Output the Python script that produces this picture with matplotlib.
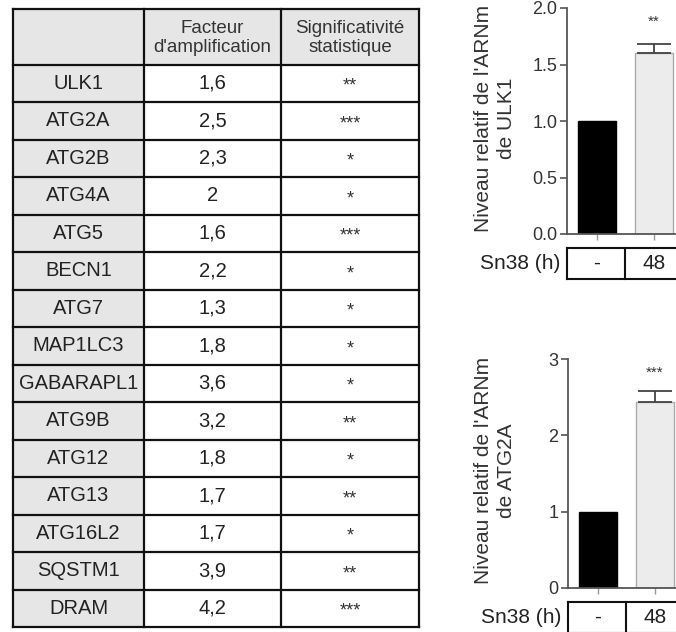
import numpy as np
import matplotlib.pyplot as plt
from matplotlib.patches import Rectangle

plt.rcParams['font.family'] = ['Liberation Sans', 'DejaVu Sans']

# table data
genes = ["ULK1", "ATG2A", "ATG2B", "ATG4A", "ATG5", "BECN1", "ATG7", "MAP1LC3",
         "GABARAPL1", "ATG9B", "ATG12", "ATG13", "ATG16L2", "SQSTM1", "DRAM"]
fold = ["1,6", "2,5", "2,3", "2", "1,6", "2,2", "1,3", "1,8",
        "3,6", "3,2", "1,8", "1,7", "1,7", "3,9", "4,2"]
signif = ["**", "***", "*", "*", "***", "*", "*", "*",
          "*", "**", "*", "**", "*", "**", "***"]
headers = ["", "Facteur\nd'amplification", "Significativité\nstatistique"]

# bar chart data
conditions = ["-", "48"]
ulk1_mean = [1.0, 1.6]
ulk1_err = [0.0, 0.08]
atg2a_mean = [1.0, 2.44]
atg2a_err = [0.0, 0.14]

W, H = 676, 632
fig = plt.figure(figsize=(W / 100, H / 100), dpi=100)

def px_axes(x0, y0, x1, y1):
    return fig.add_axes([x0 / W, 1 - y1 / H, (x1 - x0) / W, (y1 - y0) / H])

# ---- table ----
tab = fig.add_axes([0, 0, 1, 1])
tab.set_xlim(0, W)
tab.set_ylim(H, 0)
tab.axis('off')

col_edges = [13, 144, 281, 419]
top, head_bot, row_h = 9, 64.5, 37.5
gray = '#e6e6e6'
n = len(genes)
bottom = head_bot + n * row_h

# backgrounds
tab.add_patch(Rectangle((col_edges[0], top), col_edges[3] - col_edges[0], head_bot - top,
                        facecolor=gray, edgecolor='none'))
tab.add_patch(Rectangle((col_edges[0], head_bot), col_edges[1] - col_edges[0], n * row_h,
                        facecolor=gray, edgecolor='none'))
# grid lines
for xe in col_edges:
    tab.plot([xe, xe], [top, bottom], color='#111', lw=1.6, solid_capstyle='projecting')
tab.plot([col_edges[0], col_edges[3]], [top, top], color='#111', lw=1.6)
for i in range(n + 1):
    yl = head_bot + i * row_h
    tab.plot([col_edges[0], col_edges[3]], [yl, yl], color='#111', lw=1.6)

centers = [(col_edges[i] + col_edges[i + 1]) / 2 for i in range(3)]
for j, h in enumerate(headers):
    tab.text(centers[j], (top + head_bot) / 2 + 1, h, ha='center', va='center',
             fontsize=13.5, color='#333', linespacing=1.15)
for i in range(n):
    yc = head_bot + (i + 0.5) * row_h
    tab.text(centers[0], yc, genes[i], ha='center', va='center', fontsize=14.5, color='#222')
    tab.text(centers[1], yc, fold[i], ha='center', va='center', fontsize=14.5, color='#222')
    tab.text(centers[2], yc + 7.5, signif[i], ha='center', va='baseline', fontsize=13, color='#333')

# ---- bar charts ----
x = np.arange(len(conditions))

def bar_panel(box, mean, err, ymax, yticks, ticklabels, gene, stars):
    ax = px_axes(*box)
    ax.bar(x, mean, width=0.67, color=['black', '#ececec'],
           edgecolor=['black', '#aaaaaa'], linewidth=1)
    ax.errorbar(x[1:], mean[1:], yerr=[[0], err[1:]], fmt='none', ecolor='#444',
                capsize=12, elinewidth=1.3, capthick=1.3)
    ax.text(x[1], ymax * 0.94, stars, ha='center', va='center', fontsize=11, color='#333')
    ax.set_xlim(-0.526, 1.597)
    ax.set_ylim(0, ymax)
    ax.set_yticks(yticks)
    ax.set_yticklabels(ticklabels, fontsize=13, color='#333')
    ax.set_xticks(x)
    ax.set_xticklabels([])
    ax.tick_params(axis='y', length=5, width=1.2, color='#555', pad=2)
    ax.tick_params(axis='x', length=4, width=1, color='#999')
    for s in ['top', 'right']:
        ax.spines[s].set_visible(False)
    for s in ['left', 'bottom']:
        ax.spines[s].set_color('#555')
        ax.spines[s].set_linewidth(1.3)
    # condition box under the axis
    trans = ax.get_xaxis_transform()
    hpx = box[3] - box[1]
    y0 = -14 / hpx
    y1 = -45 / hpx
    ax.plot([-0.526, 1.7], [y0, y0], color='#111', lw=1.5, transform=trans, clip_on=False)
    ax.plot([-0.526, 1.7], [y1, y1], color='#111', lw=1.5, transform=trans, clip_on=False)
    for xe in [-0.526, 0.5]:
        ax.plot([xe, xe], [y0, y1], color='#111', lw=1.5, transform=trans, clip_on=False)
    for xi, c in zip(x, conditions):
        ax.text(xi, (y0 + y1) / 2, c, ha='center', va='center', fontsize=15,
                color='#222', transform=trans)
    ax.text(-0.526 - 7 / 57, (y0 + y1) / 2, "Sn38 (h)", ha='right', va='center',
            fontsize=15, color='#222', transform=trans)
    fig.text(495 / W, 1 - ((box[1] + box[3]) / 2 - 3) / H,
             "Niveau relatif de l'ARNm\nde " + gene, rotation=90, ha='center', va='center',
             fontsize=15, color='#333', linespacing=1.25, multialignment='center')
    return ax

bar_panel((567, 8, 688, 234), ulk1_mean, ulk1_err, 2.0,
          [0, 0.5, 1.0, 1.5, 2.0], ["0.0", "0.5", "1.0", "1.5", "2.0"], "ULK1", "**")
bar_panel((568, 359, 689, 588), atg2a_mean, atg2a_err, 3.0,
          [0, 1, 2, 3], ["0", "1", "2", "3"], "ATG2A", "***")

fig.savefig("out.png", dpi=100)
